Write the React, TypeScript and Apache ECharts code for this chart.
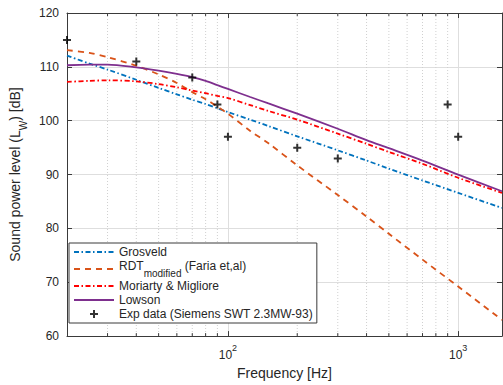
import React, { useEffect, useRef } from 'react';
import * as echarts from 'echarts';

// Frequency grid (Hz) for model curves
const FREQ = [20, 25, 30, 40, 50, 60, 70, 80, 90, 100, 125, 150, 200, 300, 400, 500, 700, 1000, 1550];
const GROSVELD = [112.1, 110.6, 109.5, 107.6, 106.1, 104.9, 103.9, 103.1, 102.3, 101.6, 100.2, 99.0, 97.1, 94.5, 92.6, 91.1, 88.9, 86.6, 83.8];
const RDT_MOD = [113.1, 112.6, 111.8, 110.2, 108.6, 107.0, 105.3, 104.0, 102.6, 101.3, 98.1, 95.8, 91.7, 86.2, 82.2, 79.0, 74.2, 69.2, 63.0];
const MORIARTY = [107.2, 107.4, 107.5, 107.3, 106.8, 106.2, 105.6, 105.1, 104.6, 104.2, 102.9, 101.8, 100.2, 97.6, 95.7, 94.2, 92.0, 89.4, 86.6];
const LOWSON = [110.3, 110.4, 110.4, 109.9, 109.3, 108.7, 108.1, 107.4, 106.6, 105.9, 104.4, 103.2, 101.3, 98.5, 96.4, 94.9, 92.6, 90.0, 86.9];

// Experimental data
const EXP_FREQ = [20, 40, 70, 90, 100, 200, 300, 900, 1000];
const EXP_LW = [115, 111, 108, 103, 97, 95, 93, 103, 97];

// Minor log grid positions
const MINOR_FREQ = [30, 40, 50, 60, 70, 80, 90, 200, 300, 400, 500, 600, 700, 800, 900];

const NAMES = [
  'Grosveld',
  'RDTmodified (Faria et,al)',
  'Moriarty & Migliore',
  'Lowson',
  'Exp data (Siemens SWT 2.3MW-93)',
];

const X_MIN = 20;
const X_MAX = 1550;
const Y_MIN = 60;
const Y_MAX = 120;

const FONT = '"Liberation Sans", Arial, Helvetica, sans-serif';
const TXT = '#262626';
const AX = '#3a3a3a';
const PLUS = 'path://M3.75,0H6.25V3.75H10V6.25H6.25V10H3.75V6.25H0V3.75H3.75Z';
const DASHDOT = [5, 2.5, 1.5, 2.5];
const LEG_FS = 12;

const zip = (xs: number[], ys: number[]) => xs.map((x, i) => [x, ys[i]]);

const isPow10 = (v: number) => {
  const l = Math.log10(v);
  return Math.abs(l - Math.round(l)) < 1e-6;
};

export default function App() {
  const ref = useRef<HTMLDivElement>(null);
  useEffect(() => {
    if (!ref.current) return;
    const chart = echarts.init(ref.current, undefined, { renderer: 'svg' });
    const lineBase = (name: string, data: number[], color: string, type: any, width = 1.8) => ({
      name,
      type: 'line',
      data: zip(FREQ, data),
      showSymbol: false,
      symbol: 'none',
      smooth: 0.3,
      lineStyle: { color, width, type },
      itemStyle: { color },
      z: 3,
    });
    const option: any = {
      animation: false,
      textStyle: { fontFamily: FONT },
      grid: { left: 63, right: 1, top: 13, bottom: 45, containLabel: false },
      xAxis: [
        {
          type: 'log',
          logBase: 10,
          min: X_MIN,
          max: X_MAX,
          name: 'Frequency [Hz]',
          nameLocation: 'middle',
          nameGap: 26,
          nameTextStyle: { fontSize: 14, color: TXT, fontFamily: FONT },
          axisLine: { show: true, lineStyle: { color: AX, width: 1 } },
          axisTick: { show: true, inside: true, length: 5, lineStyle: { color: AX } },
          axisLabel: {
            color: TXT,
            margin: 7,
            showMinLabel: false,
            showMaxLabel: false,
            formatter: (v: number) => (isPow10(v) ? `{b|10}{s|${Math.round(Math.log10(v))}}` : ''),
            rich: {
              b: { fontSize: 12, lineHeight: 18, verticalAlign: 'bottom', color: TXT, fontFamily: FONT },
              s: { fontSize: 9, lineHeight: 9, verticalAlign: 'top', color: TXT, fontFamily: FONT },
            },
          },
          splitLine: { show: true, lineStyle: { color: '#dedede', width: 1 } },
          minorTick: { show: false },
        },
        {
          type: 'log',
          logBase: 10,
          min: X_MIN,
          max: X_MAX,
          position: 'top',
          axisLine: { show: true, lineStyle: { color: AX, width: 1 } },
          axisTick: { show: true, inside: true, length: 5, lineStyle: { color: AX } },
          axisLabel: { show: false },
          splitLine: { show: false },
        },
      ],
      yAxis: [
        {
          type: 'value',
          min: Y_MIN,
          max: Y_MAX,
          interval: 10,
          name: '{n|Sound power level (L}{s|W}{n|) [dB]}',
          nameLocation: 'middle',
          nameGap: 39,
          nameTextStyle: {
            color: TXT,
            fontFamily: FONT,
            rich: {
              n: { fontSize: 14, lineHeight: 20, verticalAlign: 'top', color: TXT, fontFamily: FONT },
              s: { fontSize: 10, lineHeight: 10, verticalAlign: 'bottom', color: TXT, fontFamily: FONT },
            },
          },
          axisLine: { show: true, lineStyle: { color: AX, width: 1 } },
          axisTick: { show: true, inside: true, length: 5, lineStyle: { color: AX } },
          axisLabel: { color: TXT, fontSize: 12, margin: 8, fontFamily: FONT },
          splitLine: { show: true, lineStyle: { color: '#dedede', width: 1 } },
        },
        {
          type: 'value',
          min: Y_MIN,
          max: Y_MAX,
          interval: 10,
          position: 'right',
          axisLine: { show: true, lineStyle: { color: AX, width: 1 } },
          axisTick: { show: true, inside: true, length: 5, lineStyle: { color: AX } },
          axisLabel: { show: false },
          splitLine: { show: false },
        },
      ],
      legend: {
        orient: 'vertical',
        left: 69,
        top: 243,
        padding: [3, 4, 3, 4],
        itemGap: 2,
        itemWidth: 40,
        itemHeight: 8,
        backgroundColor: '#ffffff',
        borderColor: AX,
        borderWidth: 1,
        borderRadius: 0,
        data: NAMES.map((n, i) => (i < 4 ? { name: n, itemStyle: { opacity: 0 } } : { name: n })),
        textStyle: {
          fontSize: LEG_FS,
          color: TXT,
          fontFamily: FONT,
          rich: {
            n: { fontSize: LEG_FS, lineHeight: 18, verticalAlign: 'top', color: TXT, fontFamily: FONT },
            sub: { fontSize: 10, lineHeight: 9, verticalAlign: 'bottom', color: TXT, fontFamily: FONT },
          },
        },
        formatter: (name: string) =>
          name.startsWith('RDT') ? '{n|RDT}{sub|modified}{n| (Faria et,al)}' : name,
      },
      series: [
        {
          type: 'custom',
          silent: true,
          z: 1,
          data: MINOR_FREQ.map((f) => [f, Y_MIN]),
          encode: { x: 0, y: 1 },
          renderItem: (params: any, api: any) => {
            const f = api.value(0);
            const top = api.coord([f, Y_MAX]);
            const bot = api.coord([f, Y_MIN]);
            return {
              type: 'group',
              children: [
                {
                  type: 'line',
                  shape: { x1: top[0], y1: top[1], x2: bot[0], y2: bot[1] },
                  style: { stroke: '#d0d0d0', lineWidth: 1, lineDash: [1, 2] },
                },
                {
                  type: 'line',
                  shape: { x1: bot[0], y1: bot[1], x2: bot[0], y2: bot[1] - 3 },
                  style: { stroke: AX, lineWidth: 1 },
                },
                {
                  type: 'line',
                  shape: { x1: top[0], y1: top[1], x2: top[0], y2: top[1] + 3 },
                  style: { stroke: AX, lineWidth: 1 },
                },
              ],
            };
          },
        },
        lineBase(NAMES[0], GROSVELD, '#0072BD', DASHDOT),
        lineBase(NAMES[1], RDT_MOD, '#D95319', [6, 5]),
        lineBase(NAMES[2], MORIARTY, '#FF0000', DASHDOT),
        lineBase(NAMES[3], LOWSON, '#7E2F8E', 'solid'),
        {
          name: NAMES[4],
          type: 'scatter',
          data: zip(EXP_FREQ, EXP_LW),
          symbol: PLUS,
          symbolSize: 8,
          clip: false,
          itemStyle: { color: '#000000' },
          z: 4,
        },
      ],
    };
    chart.setOption(option);
    return () => chart.dispose();
  }, []);
  return (
    <div
      ref={ref}
      style={{ position: 'fixed', left: 0, top: 0, width: 503, height: 385, background: '#ffffff' }}
    />
  );
}
